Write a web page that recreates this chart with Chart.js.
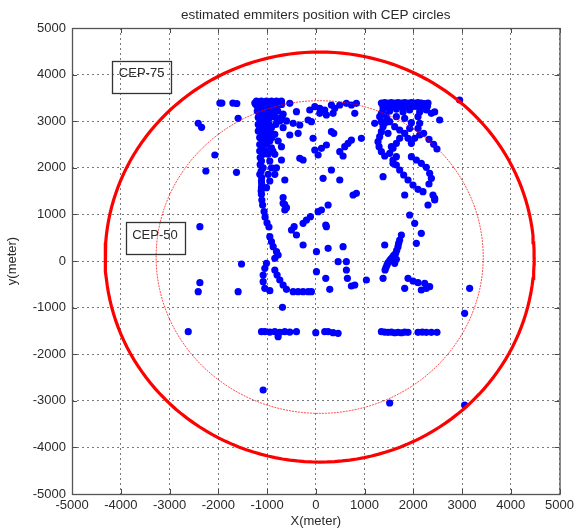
<!DOCTYPE html>
<html>
<head>
<meta charset="utf-8">
<script src="https://cdn.jsdelivr.net/npm/chart.js@4/dist/chart.umd.min.js"></script>
<style>
  html, body { margin: 0; padding: 0; background: #fff; }
  #wrap { width: 578px; height: 532px; }
</style>
</head>
<body>
<div id="wrap"><canvas id="c" width="578" height="532"></canvas></div>
<script>
// ---- estimated emitter positions (metres) ----
const leftColumn = [
  [-1250,3390],[-1216,3430],[-1114,3430],[-1011,3430],[-909,3430],[-806,3430],[-704,3430],
  [-1230,3360],[-1130,3360],[-1040,3360],[-960,3360],[-880,3360],[-780,3360],[-700,3360],
  [-1182,3290],[-1079,3290],[-943,3290],[-840,3290],
  [-1200,3220],[-1100,3220],[-1000,3220],[-900,3220],[-780,3220],
  [-1148,3150],[-1011,3150],[-874,3150],[-670,3150],
  [-1180,3080],[-1060,3080],[-940,3080],[-820,3080],[-700,3080],
  [-1114,3005],[-977,3005],[-738,3005],[-601,3005],
  [-1180,2930],[-1060,2930],[-960,2930],[-820,2930],
  [-1148,2860],[-1011,2860],[-909,2860],[-670,2860],
  [-1180,2790],[-1060,2790],[-940,2790],
  [-1114,2720],[-977,2720],[-840,2720],
  [-1150,2650],[-1040,2650],[-900,2650],
  [-1079,2575],[-943,2575],[-772,2575],
  [-1150,2500],[-1010,2500],
  [-1114,2430],[-909,2430],[-704,2453],
  [-1150,2360],[-1030,2360],[-880,2360],
  [-1079,2290],[-977,2290],[-840,2290],
  [-1140,2220],
  [-1114,2145],[-943,2145],[-704,2167],
  [-1140,2070],
  [-1079,2000],[-909,2000],[-806,2000],
  [-1120,1930],
  [-1148,1860],[-977,1860],[-840,1860],
  [-1110,1790],
  [-1114,1717],[-943,1717],[-635,1738],
  [-1110,1650],
  [-1114,1574],[-1011,1574],
  [-1120,1500],
  [-1114,1430],[-670,1360],[-1106,1309],[-670,1238],[-640,1215],[-1090,1200],[-601,1145],[-635,1094],
  [-1060,1060],[-1040,940],[-1000,820],[-960,730],
  [-943,522],[-909,415],[-874,308],[-806,200],[-772,129],[-840,57],
  [-1011,-50],[-1045,-157],[-1079,-300],[-1079,-444],[-1045,-586],[-943,-637],
  [-840,-193],[-793,-300],[-738,-408],[-670,-515],[-601,-608],[-683,-994]
];

const topMiddle = [
  [-533,3384],[-396,3205],[-464,2955],[-328,2918],[-362,2740],[-533,2704],
  [-123,3240],[-20,3311],[82,3276],[184,3240],[321,3348],[389,3276],[492,3348],
  [628,3384],[731,3348],[833,3384],[82,3169],[218,3133],[355,3169],[800,3169],
  [-157,3026],[-89,2990]
];

const centreScatter = [
  [-55,2632],[-20,2382],[116,2418],[218,2489],[48,2275],[-260,2167],[-328,2203],
  [321,2775],[369,2740],[492,2346],[594,2453],[663,2525],[731,2596],[560,2253],
  [936,2632],[1209,2955],[150,1774],[321,1953],[492,1738],[765,1416],[833,1452],[218,737],
  [-498,665],[-444,737],[-396,558],[-260,808],[-191,880],[-109,951],[48,1058],
  [116,1094],[253,1202],[205,773],[-260,343],[14,200],[253,272],[560,308],
  [458,-14],[628,-14],[628,-193],[649,-372],[731,-537],[800,-515],[1038,-408],
  [14,-229],[205,-372],[287,-608],
  [-464,-658],[-362,-658],[-260,-658],[-157,-658],[-89,-658]
];

const rightCluster = [
  [1346,3390],[1414,3400],[1482,3390],[1551,3400],[1619,3390],[1687,3400],[1756,3390],
  [1824,3400],[1892,3390],[1961,3400],[2029,3390],[2097,3400],[2165,3390],[2234,3380],[2302,3390],
  [1380,3320],[1450,3320],[1520,3320],[1590,3320],[1660,3320],[1730,3320],[1800,3320],
  [1870,3320],[1940,3320],[2010,3320],[2080,3320],[2150,3320],[2220,3320],[2290,3320],
  [1380,3260],[1516,3220],[1653,3260],[1790,3200],[1926,3240],[2131,3200],[2268,3240],
  [2371,3170],[2439,3200],[2541,3026],
  [1311,3097],[1346,2990],[1380,2883],[1346,2776],[1311,2668],[1277,2561],[1298,2453],
  [1346,2346],[1414,2253],[1440,3130],[1460,3050],
  [1346,3169],[1414,2955],[1482,2740],[1551,2453],[1653,2239],[1584,2096],
  [1516,2990],[1619,2883],[1721,2811],[1824,2740],[1892,2632],[1961,2525],[2029,2632],
  [2131,2704],[1721,2632],[1653,2525],[1584,2418],[1516,2310],[1653,3097],[2097,3097],
  [2131,2955],[1926,2847],
  [1824,3062],[1961,2968],[2097,2847],[2213,2740],[2322,2611],[2418,2504],[2486,2403],
  [1584,2167],[1653,2060],[1721,1953],[1803,1845],[1892,1738],[1994,1631],[2097,1538],[2199,1488],
  [1961,2239],[2063,2167],[2165,2096],[2268,2010],[2336,1882],[2371,1774],[2322,1652],
  [2404,1416],[2439,1345],[2302,1202],[2439,1309],
  [1380,1810],[1824,1416],[1926,987],[2029,809],[2165,594],[2063,380],
  [1756,558],[1721,451],[1700,380],[1687,308],[1660,230],[1639,165],[1600,120],[1571,79],
  [1540,40],[1516,7],[1480,-40],[1461,-86],[1440,-140],[1421,-193],[1380,-372],
  [1619,-50],[1653,36],[1414,343],
  [1892,-372],[1994,-429],[2097,-465],[2234,-479],[2336,-551],[2165,-622],[2268,-586],[1824,-586]
];

const bottomRow = [
  [-1113,-1517],[-1045,-1517],[-943,-1525],[-840,-1517],[-738,-1530],[-635,-1517],
  [-533,-1525],[-396,-1517],[-772,-1624],
  [0,-1538],[184,-1517],[253,-1517],[355,-1538],[458,-1552],
  [1346,-1517],[1414,-1525],[1482,-1530],[1551,-1525],[1619,-1540],[1687,-1530],
  [1756,-1540],[1824,-1525],[1892,-1530],
  [2097,-1530],[2186,-1525],[2268,-1530],[2371,-1530],[2486,-1530]
];

const outliers = [
  [-1967,3390],[-1926,3390],[-1700,3390],[-1620,3380],[-1592,3062],[-2411,2955],[-2342,2869],
  [-2070,2275],[-2254,1931],[-1626,1903],[-2377,737],[-1523,-64],[-2377,-465],[-2411,-658],
  [-1592,-658],[-2616,-1517],[-1079,-2768],[1516,-3047],[3053,-3090],[3053,-1123],
  [3156,-586],[2951,3455]
];

// ---- CEP circles: common centre and radii (metres) ----
const cepCentre = [80, 85];
const cep75Radius = 4400;
const cep50Radius = 3355;

// ---- text boxes: label and text centre (metres) ----
const boxLabels = ['CEP-75', 'CEP-50'];
const boxAnchors = [[-3572, 4028], [-3299, 558]];

// ---- axes ----
const xTicks = [-5000,-4000,-3000,-2000,-1000,0,1000,2000,3000,4000,5000];
const yTicks = [-5000,-4000,-3000,-2000,-1000,0,1000,2000,3000,4000,5000];

const FONT = '"Liberation Sans", Arial, Helvetica, sans-serif';
const TEXT = '#2a2a2a';

function toPoints(list) { return list.map(p => ({ x: p[0], y: p[1] })); }

function circle(centre, r) {
  const pts = [];
  for (let deg = 0; deg <= 360; deg += 2) {
    const a = deg * Math.PI / 180;
    pts.push({ x: centre[0] + r * Math.cos(a), y: centre[1] + r * Math.sin(a) });
  }
  return pts;
}

const emitters = toPoints([].concat(leftColumn, topMiddle, centreScatter, rightCluster, bottomRow, outliers));

const decorations = {
  id: 'decorations',
  afterDraw(chart) {
    const { ctx, chartArea: a, scales: { x, y } } = chart;
    ctx.save();

    // inward tick marks on all four sides
    ctx.strokeStyle = '#4a4a4a';
    ctx.lineWidth = 1;
    ctx.beginPath();
    xTicks.forEach(v => {
      const px = Math.round(x.getPixelForValue(v)) + 0.5;
      ctx.moveTo(px, a.top); ctx.lineTo(px, a.top + 5);
      ctx.moveTo(px, a.bottom); ctx.lineTo(px, a.bottom - 5);
    });
    yTicks.forEach(v => {
      const py = Math.round(y.getPixelForValue(v)) + 0.5;
      ctx.moveTo(a.left, py); ctx.lineTo(a.left + 5, py);
      ctx.moveTo(a.right, py); ctx.lineTo(a.right - 5, py);
    });
    ctx.stroke();

    // axes box
    ctx.strokeStyle = '#555';
    ctx.lineWidth = 1.3;
    ctx.strokeRect(a.left + 0.5, a.top + 0.5, a.right - a.left, a.bottom - a.top);

    // title and axis titles
    ctx.fillStyle = TEXT;
    ctx.textAlign = 'center';
    ctx.textBaseline = 'middle';
    ctx.font = '13.5px ' + FONT;
    ctx.fillText('estimated emmiters position with CEP circles', (a.left + a.right) / 2, 15);
    ctx.font = '13px ' + FONT;
    ctx.fillText('X(meter)', (a.left + a.right) / 2, 521);
    ctx.save();
    ctx.translate(12, (a.top + a.bottom) / 2);
    ctx.rotate(-Math.PI / 2);
    ctx.fillText('y(meter)', 0, 0);
    ctx.restore();

    // CEP text boxes
    ctx.font = '13px ' + FONT;
    boxLabels.forEach((label, i) => {
      const cx = x.getPixelForValue(boxAnchors[i][0]);
      const cy = y.getPixelForValue(boxAnchors[i][1]);
      const w = ctx.measureText(label).width + 13;
      ctx.strokeStyle = '#333';
      ctx.lineWidth = 1.3;
      ctx.strokeRect(Math.round(cx - w / 2) + 0.5, Math.round(cy - 12.6) + 0.5, Math.round(w), 32);
      ctx.fillStyle = TEXT;
      ctx.fillText(label, cx, cy);
    });
    ctx.restore();
  }
};

new Chart(document.getElementById('c'), {
  type: 'scatter',
  data: {
    datasets: [
      {
        label: 'CEP-75',
        data: circle(cepCentre, cep75Radius),
        showLine: true,
        borderColor: '#ff0000',
        borderWidth: 3.2,
        pointRadius: 0,
        fill: false,
        tension: 0
      },
      {
        label: 'CEP-50',
        data: circle(cepCentre, cep50Radius),
        showLine: true,
        borderColor: 'rgba(255,0,0,0.7)',
        borderWidth: 1,
        borderDash: [2, 1],
        pointRadius: 0,
        fill: false,
        tension: 0
      },
      {
        label: 'emitters',
        data: emitters,
        backgroundColor: '#0000ff',
        pointBackgroundColor: '#0000ff',
        pointBorderWidth: 0,
        pointRadius: 3.6,
        pointHoverRadius: 3.6
      }
    ]
  },
  options: {
    responsive: false,
    animation: false,
    devicePixelRatio: 1,
    events: [],
    layout: { padding: { left: 0, right: 18, top: 28, bottom: 0 } },
    plugins: {
      legend: { display: false },
      tooltip: { enabled: false },
      title: { display: false }
    },
    scales: {
      x: {
        type: 'linear',
        min: -5000, max: 5000,
        afterBuildTicks: s => { s.ticks = xTicks.map(v => ({ value: v })); },
        afterFit: s => { s.height = 38; },
        grid: { color: '#7a7a7a', lineWidth: 1, drawTicks: false },
        border: { display: false, dash: [2, 3] },
        ticks: {
          autoSkip: false, maxRotation: 0, padding: 4,
          color: TEXT, font: { family: FONT, size: 13 },
          callback: v => String(v)
        }
      },
      y: {
        type: 'linear',
        min: -5000, max: 5000,
        afterBuildTicks: s => { s.ticks = yTicks.map(v => ({ value: v })); },
        afterFit: s => { s.width = 72; },
        grid: { color: '#7a7a7a', lineWidth: 1, drawTicks: false },
        border: { display: false, dash: [2, 3] },
        ticks: {
          autoSkip: false, padding: 6,
          color: TEXT, font: { family: FONT, size: 13 },
          callback: v => String(v)
        }
      }
    }
  },
  plugins: [decorations]
});
</script>
</body>
</html>
